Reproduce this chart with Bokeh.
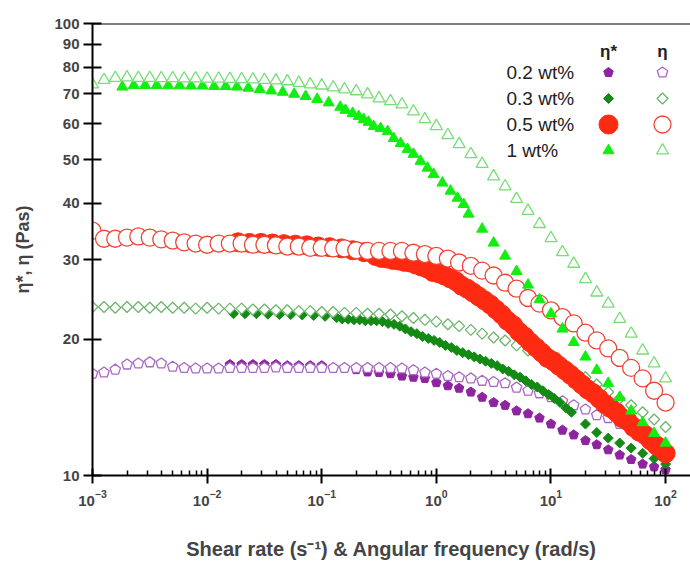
from math import log10, pi
from bokeh.plotting import figure
from bokeh.models import FixedTicker, Span, CustomJSTickFormatter, LogTickFormatter
from bokeh.core.properties import value
from bokeh.embed import file_html
from bokeh.resources import INLINE

# ---------------- data ----------------
GRID = [0.001, 0.00126, 0.00158, 0.002, 0.00251, 0.00316, 0.00398, 0.00501, 0.00631, 0.00794,
        0.01, 0.0126, 0.0158, 0.02, 0.0251, 0.0316, 0.0398, 0.0501, 0.0631, 0.0794,
        0.1, 0.126, 0.158, 0.2, 0.251, 0.316, 0.398, 0.501, 0.631, 0.794,
        1, 1.26, 1.58, 2, 2.51, 3.16, 3.98, 5.01, 6.31, 7.94,
        10, 12.6, 15.8, 20, 25.1, 31.6, 39.8, 50.1, 63.1, 79.4, 100]

ETA_02 = [16.8, 16.9, 17.15, 17.6, 17.7, 17.8, 17.7, 17.4, 17.3, 17.25,
          17.25, 17.25, 17.3, 17.3, 17.3, 17.3, 17.35, 17.3, 17.3, 17.3,
          17.3, 17.3, 17.3, 17.3, 17.3, 17.3, 17.3, 17.25, 17.1, 16.9,
          16.8, 16.6, 16.5, 16.4, 16.2, 16.1, 16.0, 15.65, 15.4, 15.2,
          14.9, 14.6, 14.3, 14.0, 13.6, 13.4, 13.0, 12.6, 12.3, 11.9, 11.5]
ETA_03 = [23.6, 23.6, 23.5, 23.6, 23.6, 23.5, 23.6, 23.5, 23.5, 23.4,
          23.5, 23.4, 23.4, 23.4, 23.3, 23.3, 23.2, 23.2, 23.1, 23.1,
          23.0, 23.0, 22.9, 22.9, 22.8, 22.8, 22.7, 22.5, 22.3, 22.1,
          21.9, 21.6, 21.4, 21.0, 20.6, 20.2, 19.9, 19.4, 18.9, 18.4,
          18.0, 17.4, 17.0, 16.5, 15.9, 15.3, 14.8, 14.3, 13.8, 13.3, 12.8]
ETA_05 = [34.8, 33.4, 33.4, 33.6, 33.8, 33.6, 33.3, 33.1, 32.8, 32.6,
          32.4, 32.6, 32.6, 32.6, 32.4, 32.4, 32.3, 32.1, 32.1, 31.9,
          31.9, 31.8, 31.8, 31.5, 31.4, 31.4, 31.4, 31.4, 31.1, 30.9,
          30.6, 30.2, 29.6, 29.1, 28.4, 27.7, 26.7, 25.9, 24.7, 24.0,
          23.2, 22.4, 21.7, 20.7, 19.9, 19.1, 18.2, 17.3, 16.4, 15.4, 14.5]
ETA_1 = [73.3, 75.0, 75.8, 76.0, 75.8, 75.8, 75.7, 75.7, 75.6, 75.6,
         75.5, 75.5, 75.4, 75.3, 75.2, 75.0, 74.8, 74.5, 73.9, 73.3,
         72.9, 72.2, 71.5, 70.8, 69.7, 68.3, 67.3, 66.2, 63.9, 61.4,
         59.3, 56.6, 54.1, 51.4, 48.9, 45.9, 43.6, 40.9, 38.5, 36.0,
         33.5, 31.2, 29.4, 27.2, 25.4, 24.0, 22.2, 20.6, 18.9, 17.7, 16.4]

STAR_02_X = GRID[12:]
STAR_02 = [17.6, 17.6, 17.6, 17.6, 17.6, 17.5, 17.5, 17.5, 17.5, 17.3,
           17.3, 17.15, 16.95, 16.9, 16.8, 16.6, 16.5, 16.4, 16.05, 15.8,
           15.6, 15.3, 14.9, 14.5, 14.3, 13.9, 13.7, 13.4, 13.0, 12.6,
           12.3, 11.95, 11.7, 11.4, 11.1, 10.85, 10.6, 10.45, 10.3]

STAR_03_X = [0.0170, 0.0214, 0.0269, 0.0339, 0.0427, 0.0537, 0.0676, 0.0851, 0.107, 0.135,
             0.151, 0.170, 0.191, 0.214, 0.240, 0.269, 0.302, 0.339, 0.380, 0.427,
             0.479, 0.537, 0.603, 0.676, 0.759, 0.851, 0.955, 1.07, 1.20, 1.35,
             1.51, 1.70, 1.91, 2.14, 2.40, 2.69, 3.02, 3.39, 3.80, 4.27,
             4.79, 5.37, 6.03, 6.76, 7.59, 8.51, 9.55, 10.7, 12.0, 13.5, 15.1,
             20, 25.1, 31.6, 39.8, 50.1, 63.1, 79.4, 100]
STAR_03 = [22.8, 22.8, 22.8, 22.75, 22.7, 22.7, 22.65, 22.6, 22.5, 22.35,
           22.2, 22.18, 22.1, 22.1, 22.0, 22.0, 22.0, 21.9, 21.7, 21.6,
           21.4, 21.1, 20.8, 20.6, 20.3, 20.1, 19.9, 19.7, 19.4, 19.2,
           18.9, 18.7, 18.5, 18.3, 18.1, 17.9, 17.7, 17.5, 17.2, 17.0,
           16.7, 16.5, 16.2, 15.9, 15.7, 15.4, 15.1, 14.8, 14.5, 14.1, 13.8,
           13.0, 12.45, 12.1, 11.8, 11.5, 11.2, 10.9, 10.6]

STAR_05_X = [0.0186, 0.0234, 0.0295, 0.0372, 0.0468, 0.0589, 0.0741, 0.0933, 0.117, 0.148,
             0.186, 0.234, 0.295,
             0.331, 0.372, 0.417, 0.468, 0.525, 0.589, 0.661, 0.741, 0.832, 0.933,
             1.05, 1.17, 1.32, 1.48, 1.66, 1.86, 2.09, 2.34, 2.63, 2.95,
             3.31, 3.72, 4.17, 4.68, 5.25, 5.89, 6.61, 7.41, 8.32, 9.33,
             10.5, 11.7, 13.2, 14.8, 16.6, 18.6, 20.9, 23.4, 26.3, 29.5,
             33.1, 37.2, 41.7, 46.8, 52.5, 58.9, 66.1, 74.1, 83.2, 91.2, 100]
STAR_05 = [32.8, 32.7, 32.7, 32.6, 32.5, 32.4, 32.3, 32.1, 32.0, 31.8,
           31.5, 31.2, 30.6,
           30.3, 30.2, 30.0, 29.9, 29.7, 29.6, 29.3, 29.0, 28.7, 28.2,
           28.0, 27.7, 27.3, 26.9, 26.3, 25.9, 25.4, 24.9, 24.4, 23.9,
           23.3, 22.7, 22.0, 21.5, 20.8, 20.3, 19.7, 19.2, 18.7, 18.2,
           17.9, 17.5, 17.1, 16.7, 16.3, 15.9, 15.5, 15.2, 14.8, 14.4,
           14.1, 13.8, 13.4, 13.2, 12.8, 12.5, 12.3, 11.95, 11.65, 11.5, 11.2]

STAR_1_X = [0.00182, 0.00229, 0.00288, 0.00363, 0.00457, 0.00575, 0.00724, 0.00912, 0.0115, 0.0145,
            0.0182, 0.0229, 0.0288, 0.0363, 0.0457, 0.0575, 0.0724, 0.0912, 0.115, 0.145,
            0.161, 0.186, 0.210, 0.232, 0.256, 0.284, 0.327, 0.376, 0.424, 0.488,
            0.561, 0.632, 0.728, 0.837, 0.946, 1.13, 1.33, 1.53, 1.73, 1.91,
            2.51, 3.16, 3.98, 5.01, 6.31, 7.94, 10, 12.6, 15.8, 20,
            25.1, 31.6, 39.8, 50.1, 63.1, 79.4, 100]
STAR_1 = [72.4, 73.0, 73.0, 73.0, 72.9, 72.9, 72.8, 72.8, 72.6, 72.6,
          72.4, 72.0, 71.5, 71.0, 70.5, 69.8, 69.0, 68.0, 66.8, 65.3,
          64.3, 63.3, 62.3, 61.4, 60.5, 59.2, 58.6, 57.7, 55.7, 54.3,
          52.7, 51.4, 49.6, 47.9, 46.4, 44.4, 42.6, 41.1, 39.8, 37.9,
          35.1, 32.7, 30.6, 28.3, 26.4, 24.5, 22.8, 21.1, 19.7, 18.3,
          17.1, 16.0, 14.9, 13.9, 13.1, 12.4, 11.8]

LEGEND_LABELS = ["0.2 wt%", "0.3 wt%", "0.5 wt%", "1 wt%"]
HEADERS = ["η*", "η"]
X_TICKS = [1e-3, 1e-2, 1e-1, 1e0, 1e1, 1e2]
Y_TICKS = [10, 20, 30, 40, 50, 60, 70, 80, 90, 100]

W, H = 690, 566
BL, BT, BB, BR = 92, 23, 91, 0
X_LO, X_HI = 1e-3, 165.0
Y_LO, Y_HI = 10.0, 100.0
FONT = "Liberation Sans"


def sx(px):
    return 10 ** (log10(X_LO) + (px - BL) / (W - BL - BR) * (log10(X_HI) - log10(X_LO)))


def sy(py):
    return 10 ** (log10(Y_HI) - (py - BT) / (H - BT - BB) * (log10(Y_HI) - log10(Y_LO)))


p = figure(width=W, height=H, x_axis_type="log", y_axis_type="log",
           x_range=(X_LO, X_HI), y_range=(Y_LO, Y_HI),
           output_backend="svg", toolbar_location=None,
           min_border_left=BL, min_border_top=BT, min_border_bottom=BB, min_border_right=BR)
p.outline_line_color = None
p.grid.visible = False
p.background_fill_color = "white"
p.border_fill_color = "white"

p.add_layout(Span(location=Y_HI, dimension="width", line_color="black", line_width=2))

xa = p.xaxis[0]
xa.ticker = FixedTicker(ticks=X_TICKS,
                        minor_ticks=[m * 10.0 ** e for e in range(-3, 2) for m in range(2, 10)])
xa.formatter = LogTickFormatter()
xa.axis_line_width = 2
xa.major_tick_line_width = 2
xa.major_tick_in = 7
xa.major_tick_out = 8
xa.minor_tick_line_width = 1.5
xa.minor_tick_in = 5
xa.minor_tick_out = 0
xa.major_label_text_font = FONT
xa.major_label_text_font_style = "bold"
xa.major_label_text_font_size = "15px"
xa.major_label_standoff = 6
xa.axis_label = "Shear rate (s⁻¹) & Angular frequency (rad/s)"
xa.axis_label_text_font = FONT
xa.axis_label_text_font_style = "bold"
xa.axis_label_text_font_size = "20px"
xa.axis_label_standoff = 29

ya = p.yaxis[0]
ya.ticker = FixedTicker(ticks=Y_TICKS, minor_ticks=[])
ya.formatter = CustomJSTickFormatter(code="return tick.toFixed(0);")
ya.axis_line_width = 2
ya.major_tick_line_width = 2
ya.major_tick_in = 9
ya.major_tick_out = 9
ya.minor_tick_line_color = None
ya.major_label_text_font = FONT
ya.major_label_text_font_style = "bold"
ya.major_label_text_font_size = "15px"
ya.major_label_standoff = 4
ya.axis_label = "η*, η (Pas)"
ya.axis_label_text_font = FONT
ya.axis_label_text_font_style = "bold"
ya.axis_label_text_font_size = "18px"
ya.axis_label_standoff = 18

HAS_NGON = hasattr(p, "ngon")


def draw(kind, x, y, fill, line, size, lw=1.2):
    if kind == "pentagon":
        if HAS_NGON:
            p.ngon(x=x, y=y, radius=size / 2, radius_units="screen", n=5, angle=0,
                   fill_color=fill, line_color=line, line_width=lw)
        else:
            p.scatter(x=x, y=y, marker="hex", size=size, fill_color=fill, line_color=line, line_width=lw)
    elif kind == "diamond":
        p.scatter(x=x, y=y, marker="square", angle=pi / 4, size=size / 1.414,
                  fill_color=fill, line_color=line, line_width=lw)
    else:
        p.scatter(x=x, y=y, marker=kind, size=size, fill_color=fill, line_color=line, line_width=lw)


SERIES = [
    ("pentagon", STAR_02_X, STAR_02, GRID, ETA_02, "#8E24A0", "#A968C2", 10, 11),
    ("diamond", STAR_03_X, STAR_03, GRID, ETA_03, "#138A13", "#6DB56D", 10, 11),
    ("circle", STAR_05_X, STAR_05, GRID, ETA_05, "#FF2A12", "#EE4433", 19, 17),
    ("triangle", STAR_1_X, STAR_1, GRID, ETA_1, "#11EE11", "#77DD77", 11, 12),
]

ROW_Y = [72, 98, 124, 150]
for i, (kind, fx, fy, ox, oy, fc, oc, fs, os_) in enumerate(SERIES):
    draw(kind, fx, fy, fc, fc, fs, 1)
    draw(kind, ox, oy, "white", oc, os_, 1.3)
    draw(kind, [sx(608)], [sy(ROW_Y[i])], fc, fc, fs, 1)
    draw(kind, [sx(662)], [sy(ROW_Y[i])], "white", oc, os_, 1.3)

p.text(x=[sx(506)] * 4, y=[sy(v) for v in ROW_Y], text=LEGEND_LABELS,
       text_font=value(FONT), text_font_size="19px", text_color="#222222",
       text_baseline="middle", text_align="left")
p.text(x=[sx(608), sx(662)], y=[sy(51), sy(51)], text=HEADERS,
       text_font=value(FONT), text_font_size="17px", text_font_style="bold",
       text_color="#222222", text_baseline="middle", text_align="center")

open("out.html", "w").write(file_html(p, INLINE))
